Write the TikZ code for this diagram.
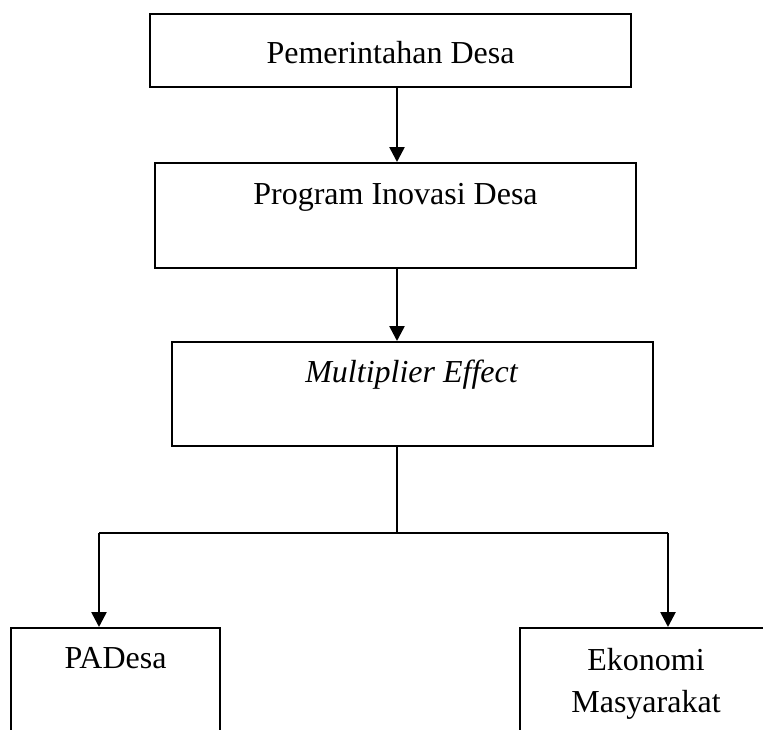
\documentclass[tikz,border=0pt]{standalone}
\usepackage{fontspec}
\setmainfont{Liberation Serif}
\usetikzlibrary{arrows.meta}
\tikzset{
  boxnode/.style={draw=black, line width=2pt, rectangle, inner sep=0pt},
  txt/.style={inner sep=0pt, font=\fontsize{32}{42}\selectfont, anchor=base, align=center},
  conn/.style={draw=black, line width=2pt},
  arr/.style={draw=black, line width=2.6pt, -{Triangle[width=15pt,length=15pt]}}
}
\begin{document}
\begin{tikzpicture}[x=1pt,y=-1pt]
\useasboundingbox (0,0) rectangle (763,729);
\clip (0,0) rectangle (763,729);
% boxes
\node[boxnode, minimum width=481pt, minimum height=73pt] (b1) at (390.5,50.5) {};
\node[boxnode, minimum width=481pt, minimum height=105pt] (b2) at (395.5,215.5) {};
\node[boxnode, minimum width=481pt, minimum height=104pt] (b3) at (412.5,394) {};
\node[boxnode, minimum width=209pt, minimum height=140pt] (b4) at (115.5,698) {};
\node[boxnode, minimum width=252pt, minimum height=140pt] (b5) at (646,698) {};
% texts
\node[txt] (t1) at (390.5,63) {Pemerintahan Desa};
\node[txt] (t2) at (395.5,204) {Program Inovasi Desa};
\node[txt] (t3) at (411.5,382) {\itshape Multiplier Effect};
\node[txt] (t4) at (115.5,668) {PADesa};
\node[txt] (t5) at (646,712) {Ekonomi\\Masyarakat};
% connector points
\coordinate (ax) at (397,0);
\coordinate (j) at (397,533);
\coordinate (hl) at (99,533);
\coordinate (hr) at (668,533);
% connectors
\draw[arr] (b1.south -| ax) -- (b2.north -| ax);
\draw[arr] (b2.south -| ax) -- (b3.north -| ax);
\draw[conn] (b3.south -| ax) -- (j);
\draw[conn] (hl) -- (hr);
\draw[arr] (hl) -- (b4.north -| hl);
\draw[arr] (hr) -- (b5.north -| hr);
\end{tikzpicture}
\end{document}
